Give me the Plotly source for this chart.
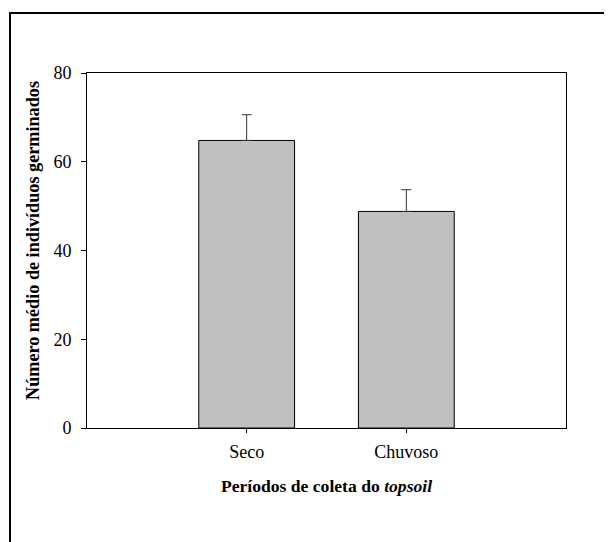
import plotly.graph_objects as go

categories = ["Seco", "Chuvoso"]
means = [64.8, 48.8]
errors_up = [5.8, 4.9]
y_ticks = [0, 20, 40, 60, 80]

fig = go.Figure()
fig.add_trace(go.Bar(
    x=categories,
    y=means,
    width=0.6,
    marker=dict(color="#c0c0c0", line=dict(color="black", width=1)),
    error_y=dict(type="data", symmetric=False, array=errors_up,
                 arrayminus=[0] * len(errors_up),
                 color="#333333", thickness=1, width=5),
    showlegend=False,
))

W, H = 612, 542
OFF = 8  # page body margin
L, R, T, B = 87 - OFF, 612 - 566 + OFF, 73 - OFF, 542 - 428 + OFF
pw, ph = W - L - R, H - T - B

def px_to_paper_x(px):
    return (px - OFF - L) / pw

def py_to_paper_y(py):
    return (H - B - (py - OFF)) / ph

fig.add_shape(type="rect", xref="paper", yref="paper",
              x0=px_to_paper_x(10), x1=px_to_paper_x(W + 40),
              y0=py_to_paper_y(H + 40), y1=py_to_paper_y(13),
              line=dict(color="black", width=2), layer="above")

fig.add_annotation(
    xref="paper", yref="paper",
    x=px_to_paper_x(33), y=py_to_paper_y(241),
    xanchor="center", yanchor="middle", textangle=-90, showarrow=False,
    text="<b>Número médio de indivíduos germinados</b>",
    font=dict(size=18.2, color="black"),
)

fig.update_layout(
    width=W, height=H,
    margin=dict(l=L, r=R, t=T, b=B),
    paper_bgcolor="white", plot_bgcolor="white",
    font=dict(family="Liberation Serif, Times New Roman, serif", size=18, color="black"),
    xaxis=dict(
        type="category", range=[-1, 2],
        showline=True, linecolor="black", linewidth=1, mirror=True,
        ticks="outside", ticklen=4, tickcolor="black", tickwidth=1,
        showgrid=False, zeroline=False,
        tickfont=dict(size=18), ticklabelstandoff=3,
        title=dict(text="<b>Períodos de coleta do <i>topsoil</i></b>",
                   font=dict(size=17.6), standoff=19),
    ),
    yaxis=dict(
        range=[0, 80], tickvals=y_ticks,
        showline=True, linecolor="black", linewidth=1, mirror=True,
        ticks="outside", ticklen=5, tickcolor="black", tickwidth=1,
        showgrid=False, zeroline=False,
        tickfont=dict(size=18),
        ticklabelstandoff=6,
    ),
)

fig.write_html("out.html")
